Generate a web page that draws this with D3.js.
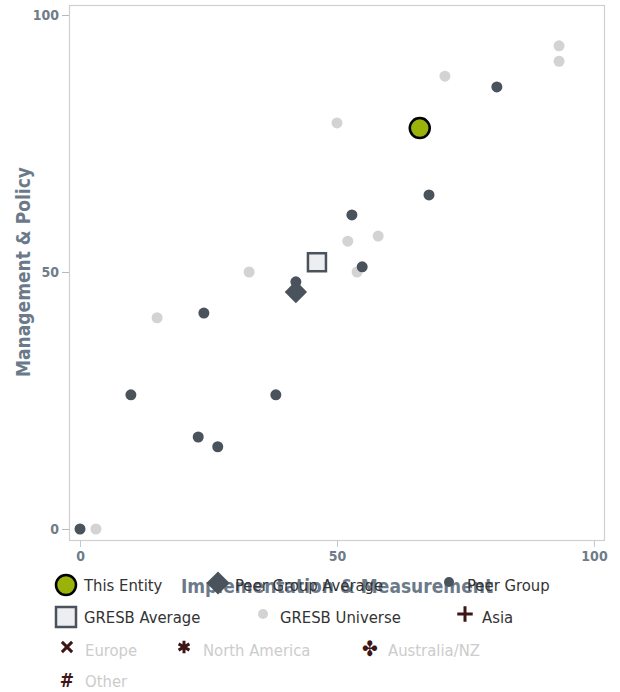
<!DOCTYPE html>
<html>
<head>
<meta charset="utf-8">
<script src="https://cdn.jsdelivr.net/npm/d3@7"></script>
<style>
  body { margin: 0; background: #fff; }
  svg text { font-family: "DejaVu Sans Condensed", "Roboto", sans-serif; }
</style>
</head>
<body>
<svg id="chart" width="620" height="692"></svg>
<script>
// values
var entity = [{x: 66.1, y: 78.0}];
var peerAverage = [{x: 42.0, y: 46.1}];
var gresbAverage = [{x: 46.1, y: 51.9}];
var peerX = [0, 9.9, 24.1, 23.0, 26.8, 38.1, 42.0, 52.9, 54.9, 67.9, 81.1];
var peerY = [0, 26.1, 42.0, 17.9, 16.0, 26.1, 48.1, 61.1, 51.0, 65.0, 86.0];
var universeX = [3.1, 15.0, 32.9, 50.0, 52.1, 53.9, 58.0, 71.0, 93.2, 93.2];
var universeY = [0, 41.1, 50.0, 79.0, 56.0, 50.0, 57.0, 88.1, 94.0, 91.0];
var ticks = [0, 50, 100];
var legendRows = [
  ["This Entity", "Peer Group Average", "Peer Group"],
  ["GRESB Average", "GRESB Universe", "Asia"],
  ["Europe", "North America", "Australia/NZ"],
  ["Other"]
];

var svg = d3.select('#chart');
var x = d3.scaleLinear().domain([0, 100]).range([80, 594]);
var y = d3.scaleLinear().domain([0, 100]).range([529, 15]);

var dark = '#4a525b', light = '#d3d3d3', brown = '#3f1616';

// frame
svg.append('rect').attr('x', 69.5).attr('y', 5.5).attr('width', 535).attr('height', 535)
    .attr('fill', 'none').attr('stroke', '#cfcfcf').attr('stroke-width', 1.2);

// axes
var xAxis = svg.append('g').attr('transform', 'translate(0,540)')
    .call(d3.axisBottom(x).tickValues(ticks).tickSize(7).tickPadding(4));
xAxis.select('.domain').remove();
xAxis.selectAll('line').attr('stroke', '#b8cce0');
xAxis.selectAll('text').attr('fill', '#6f7c89').style('font-size', '14px').style('font-weight', 'bold');

var yAxis = svg.append('g').attr('transform', 'translate(69,0)')
    .call(d3.axisLeft(y).tickValues(ticks).tickSize(7).tickPadding(3));
yAxis.select('.domain').remove();
yAxis.selectAll('line').attr('stroke', '#b8b8b8');
yAxis.selectAll('text').attr('fill', '#6f7c89').style('font-size', '14px').style('font-weight', 'bold');

// axis titles
svg.append('text').attr('x', 337).attr('y', 593).attr('text-anchor', 'middle')
    .attr('fill', '#6b7a89').style('font-size', '19px').style('font-weight', 'bold')
    .text('Implementation & Measurement');
svg.append('text').attr('transform', 'translate(30,272) rotate(-90)').attr('text-anchor', 'middle')
    .attr('fill', '#6b7a89').style('font-size', '19px').style('font-weight', 'bold')
    .text('Management & Policy');

// points
var universe = universeX.map(function(v, i){ return {x: v, y: universeY[i]}; });
var peers = peerX.map(function(v, i){ return {x: v, y: peerY[i]}; });

svg.append('g').selectAll('circle').data(universe).enter().append('circle')
    .attr('cx', function(d){ return x(d.x); }).attr('cy', function(d){ return y(d.y); })
    .attr('r', 5.5).attr('fill', light);

svg.append('g').selectAll('circle').data(peers).enter().append('circle')
    .attr('cx', function(d){ return x(d.x); }).attr('cy', function(d){ return y(d.y); })
    .attr('r', 5.5).attr('fill', dark);

svg.append('g').selectAll('path').data(peerAverage).enter().append('path')
    .attr('d', d3.symbol().type(d3.symbolDiamond2).size(320))
    .attr('transform', function(d){ return 'translate(' + x(d.x) + ',' + y(d.y) + ')'; })
    .attr('fill', dark);

svg.append('g').selectAll('rect').data(gresbAverage).enter().append('rect')
    .attr('x', function(d){ return x(d.x) - 9; }).attr('y', function(d){ return y(d.y) - 9; })
    .attr('width', 18).attr('height', 18)
    .attr('fill', '#eceef2').attr('stroke', dark).attr('stroke-width', 2.5);

svg.append('g').selectAll('circle').data(entity).enter().append('circle')
    .attr('cx', function(d){ return x(d.x); }).attr('cy', function(d){ return y(d.y); })
    .attr('r', 10).attr('fill', '#9ab20a').attr('stroke', '#000').attr('stroke-width', 2.5);

// legend
var colX = [[66, 218, 449], [66, 263, 465], [67, 184, 370], [67]];
var textX = [[84, 235, 467], [84, 280, 482], [85, 203, 388], [85]];
var rowY = [585, 617, 650, 681];
var inactive = ['Europe', 'North America', 'Australia/NZ', 'Other'];
var strokeSymbols = {'Asia': d3.symbolPlus, 'Europe': d3.symbolTimes, 'North America': d3.symbolAsterisk};

var legend = svg.append('g');
legendRows.forEach(function(row, r){
  row.forEach(function(name, c){
    var cx = colX[r][c], cy = rowY[r];
    var g = legend.append('g');
    if (name == 'This Entity') {
      g.append('circle').attr('cx', cx).attr('cy', cy).attr('r', 10)
          .attr('fill', '#9ab20a').attr('stroke', '#000').attr('stroke-width', 2.5);
    } else if (name == 'Peer Group Average') {
      g.append('path').attr('d', d3.symbol().type(d3.symbolDiamond2).size(340))
          .attr('transform', 'translate(' + cx + ',' + (cy - 2) + ')').attr('fill', dark);
    } else if (name == 'Peer Group') {
      g.append('circle').attr('cx', cx).attr('cy', cy - 3).attr('r', 5).attr('fill', dark);
    } else if (name == 'GRESB Average') {
      g.append('rect').attr('x', cx - 10).attr('y', cy - 10).attr('width', 20).attr('height', 20)
          .attr('fill', '#eceef2').attr('stroke', dark).attr('stroke-width', 2.5);
    } else if (name == 'GRESB Universe') {
      g.append('circle').attr('cx', cx).attr('cy', cy - 3).attr('r', 5).attr('fill', light);
    } else if (strokeSymbols[name]) {
      var sz = name == 'Asia' ? 80 : (name == 'Europe' ? 70 : 110);
      g.append('path').attr('d', d3.symbol().type(strokeSymbols[name]).size(sz))
          .attr('transform', 'translate(' + cx + ',' + (cy - 3) + ')')
          .attr('fill', 'none').attr('stroke', brown)
          .attr('stroke-width', name == 'Asia' ? 3 : 3);
    } else {
      g.append('text').attr('x', cx).attr('y', cy - 1).attr('text-anchor', 'middle')
          .attr('dominant-baseline', 'central')
          .attr('fill', brown).style('font-size', name == 'Other' ? '19px' : '21px')
          .style('font-weight', 'bold')
          .text(name == 'Other' ? '#' : '\u2724');
    }
    g.append('text').attr('x', textX[r][c]).attr('y', cy + 6)
        .attr('fill', inactive.indexOf(name) >= 0 ? '#cccccc' : '#333333')
        .style('font-size', '16.5px')
        .text(name);
  });
});
</script>
</body>
</html>
